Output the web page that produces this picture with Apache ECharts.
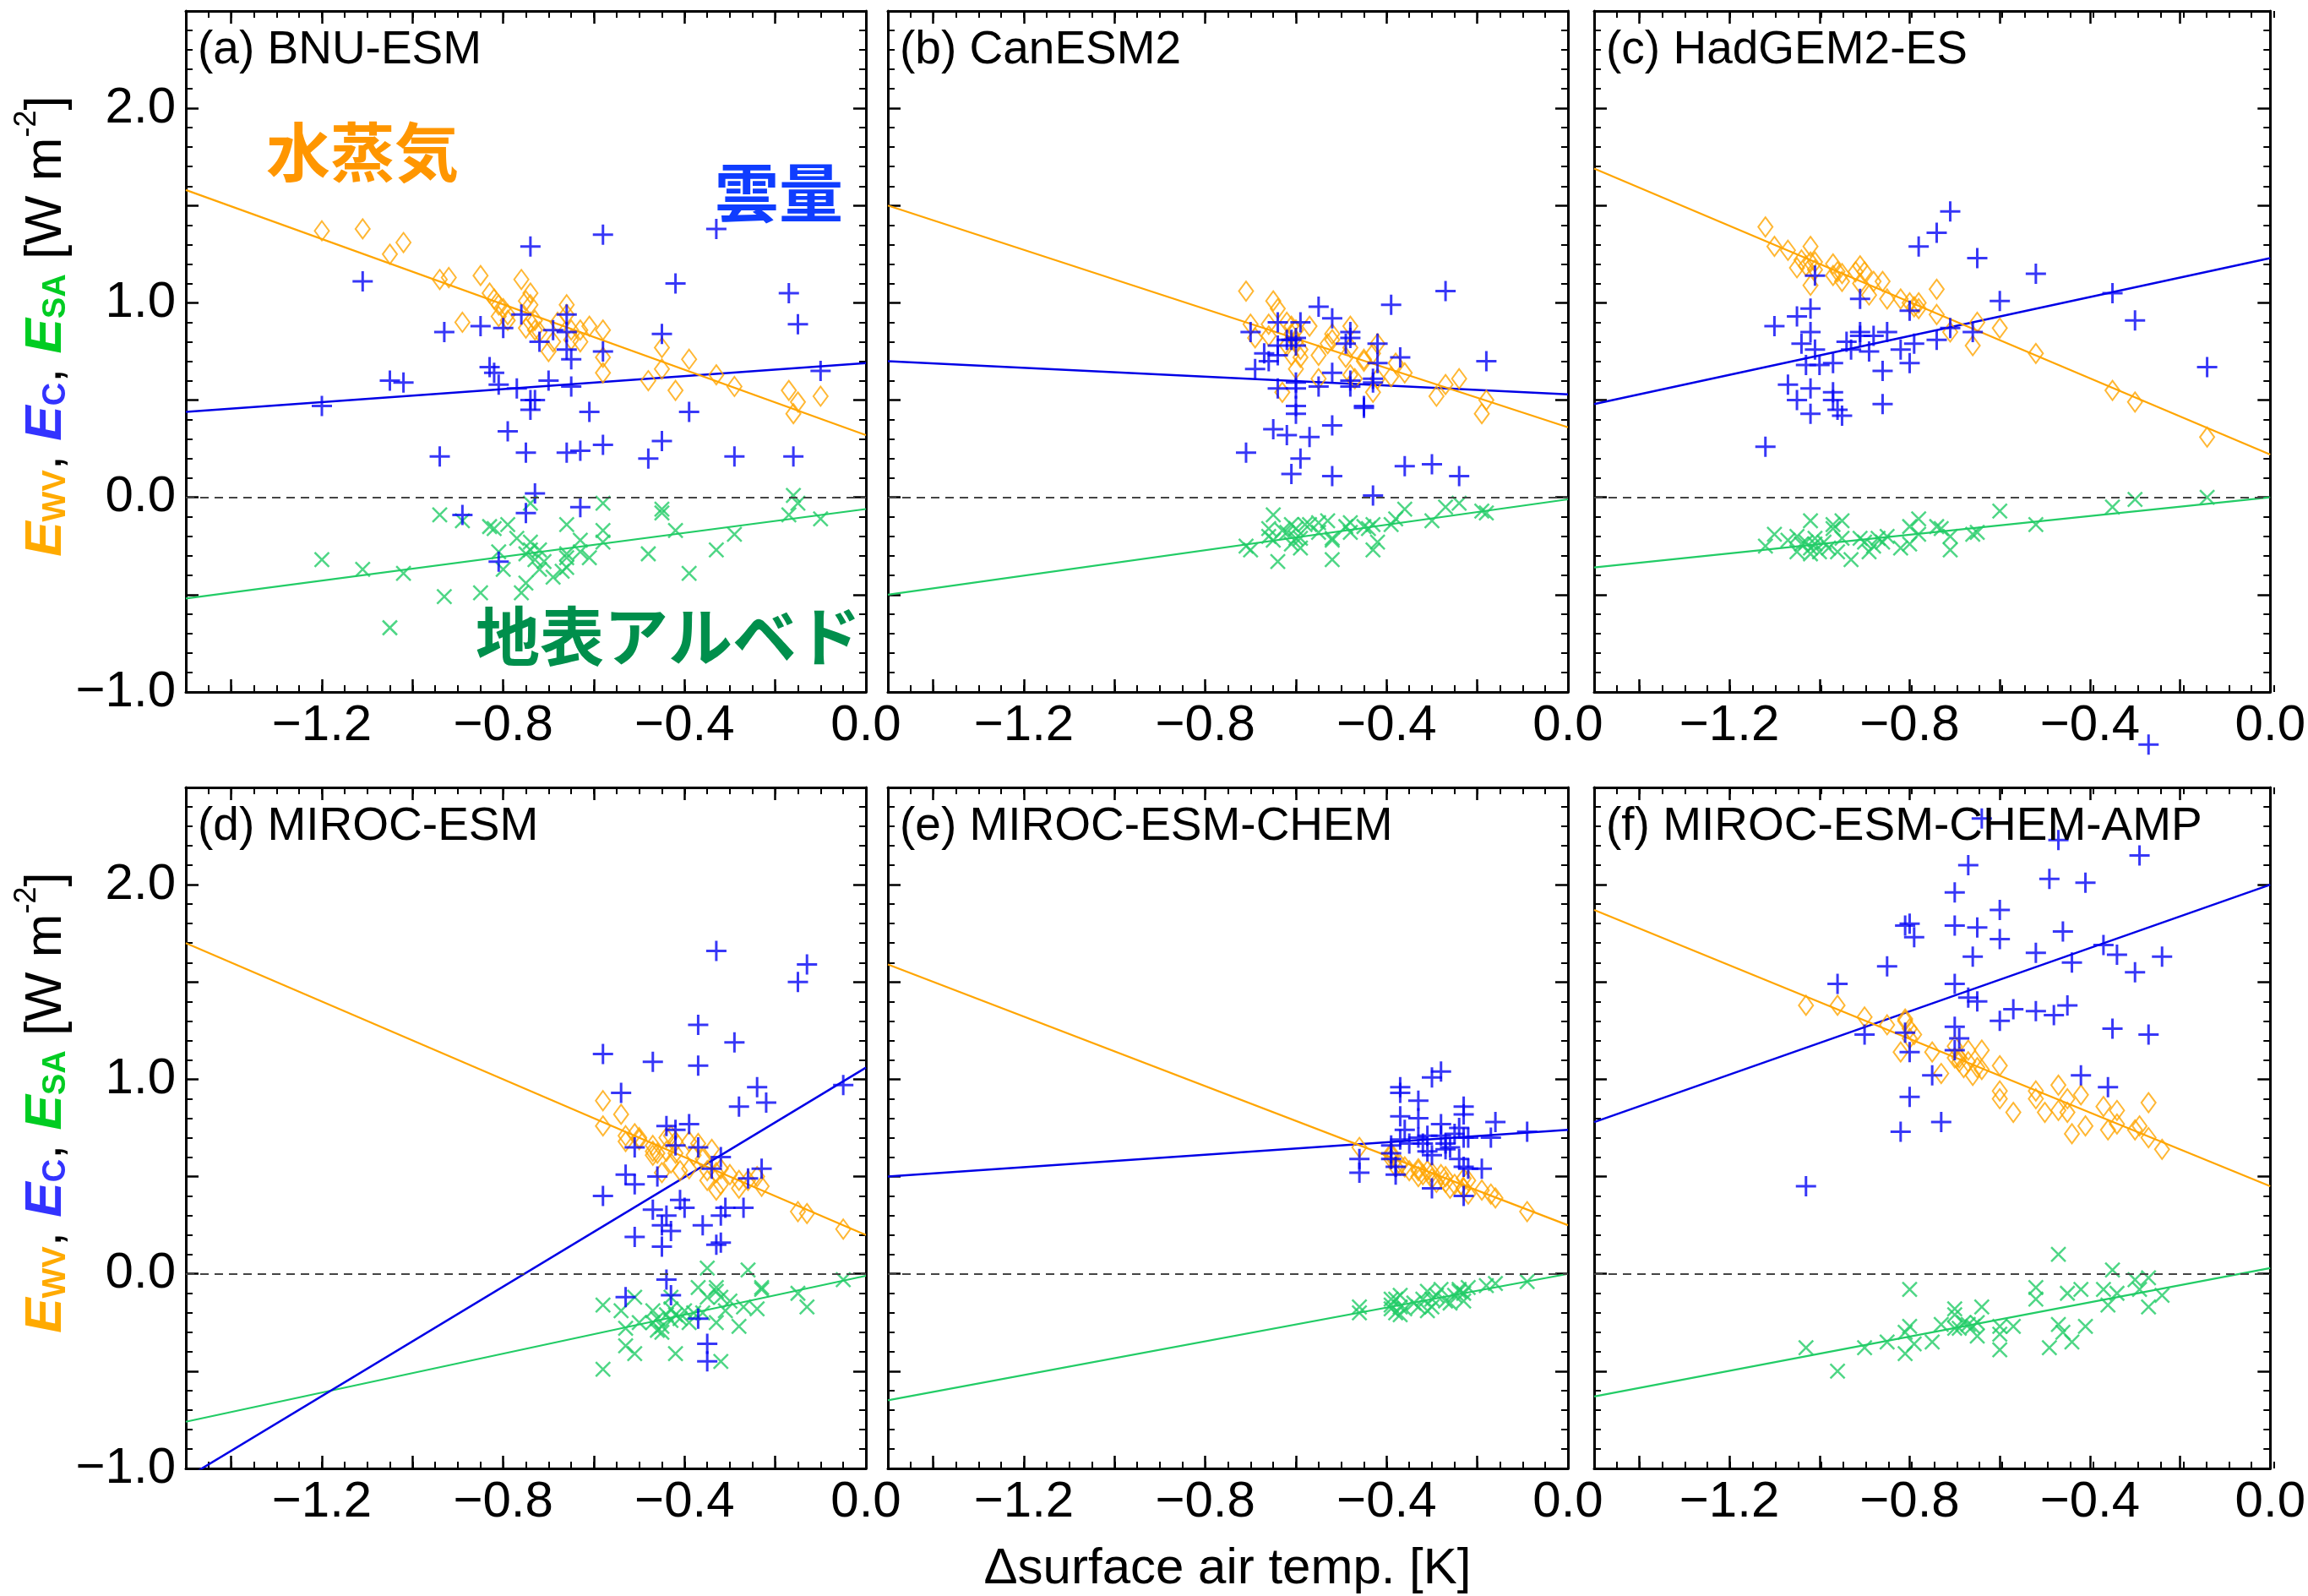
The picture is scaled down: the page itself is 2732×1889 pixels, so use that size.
<!DOCTYPE html>
<html>
<head>
<meta charset="utf-8">
<script src="https://cdn.jsdelivr.net/npm/echarts@6/dist/echarts.min.js"></script>
<style>
html, body { margin: 0; padding: 0; background: #fff; }
#chart { width: 2732px; height: 1889px; }
</style>
</head>
<body>
<div id="chart"></div>
<script>
var chartDom = document.getElementById('chart');
var myChart = echarts.init(chartDom);

var panelTitles = ['(a) BNU-ESM', '(b) CanESM2', '(c) HadGEM2-ES', '(d) MIROC-ESM', '(e) MIROC-ESM-CHEM', '(f) MIROC-ESM-CHEM-AMP'];

var xTicks = [-1.4, -1.2, -1.0, -0.8, -0.6, -0.4, -0.2, 0.0];
var xTickLabels = [-1.2, -0.8, -0.4, 0.0];
var yTickLabels = [-1, 0, 1, 2];

// [dT, E] pairs
// water vapour (orange diamonds)
var wvA = [[-1.20,1.37],[-1.11,1.38],[-1.05,1.25],[-1.02,1.31],[-0.94,1.12],[-0.92,1.13],[-0.85,1.14],[-0.76,1.12],[-0.83,1.05],[-0.82,1.02],[-0.81,0.99],[-0.80,0.97],[-0.79,0.94],[-0.81,0.93],[-0.79,0.91],[-0.75,1.01],[-0.74,1.05],[-0.74,0.99],[-0.89,0.90],[-0.75,0.87],[-0.74,0.90],[-0.73,0.91],[-0.73,0.86],[-0.72,0.85],[-0.70,0.75],[-0.69,0.80],[-0.68,0.90],[-0.66,0.99],[-0.66,0.94],[-0.65,0.86],[-0.65,0.81],[-0.63,0.80],[-0.63,0.86],[-0.61,0.88],[-0.58,0.86],[-0.58,0.72],[-0.58,0.64],[-0.48,0.60],[-0.45,0.66],[-0.45,0.77],[-0.42,0.55],[-0.39,0.71],[-0.33,0.63],[-0.29,0.57],[-0.17,0.55],[-0.15,0.49],[-0.10,0.52],[-0.16,0.43]];
var wvB = [[-0.71,1.06],[-0.65,1.01],[-0.64,0.97],[-0.70,0.89],[-0.69,0.82],[-0.66,0.83],[-0.66,0.89],[-0.62,0.90],[-0.61,0.88],[-0.60,0.86],[-0.57,0.88],[-0.61,0.84],[-0.60,0.80],[-0.62,0.78],[-0.59,0.76],[-0.61,0.73],[-0.59,0.72],[-0.60,0.66],[-0.55,0.73],[-0.52,0.81],[-0.52,0.84],[-0.53,0.79],[-0.48,0.88],[-0.48,0.77],[-0.49,0.72],[-0.45,0.70],[-0.45,0.71],[-0.42,0.79],[-0.43,0.74],[-0.48,0.63],[-0.47,0.61],[-0.42,0.61],[-0.43,0.54],[-0.55,0.61],[-0.63,0.54],[-0.39,0.62],[-0.38,0.69],[-0.36,0.64],[-0.29,0.52],[-0.27,0.58],[-0.24,0.61],[-0.18,0.50],[-0.19,0.43]];
var wvC = [[-1.12,1.39],[-1.10,1.29],[-1.07,1.27],[-1.02,1.29],[-1.05,1.18],[-1.04,1.22],[-1.03,1.19],[-1.02,1.21],[-1.01,1.21],[-1.01,1.17],[-1.02,1.09],[-0.97,1.20],[-0.97,1.14],[-0.96,1.16],[-0.95,1.11],[-0.95,1.15],[-0.92,1.16],[-0.91,1.19],[-0.90,1.16],[-0.91,1.10],[-0.89,1.04],[-0.88,1.11],[-0.86,1.11],[-0.85,1.02],[-0.82,1.02],[-0.80,1.00],[-0.78,1.00],[-0.79,0.98],[-0.78,0.97],[-0.74,1.07],[-0.74,0.94],[-0.71,0.85],[-0.66,0.78],[-0.65,0.90],[-0.60,0.87],[-0.52,0.74],[-0.35,0.55],[-0.30,0.49],[-0.14,0.31]];
var wvD = [[-0.58,0.89],[-0.54,0.82],[-0.58,0.76],[-0.53,0.71],[-0.53,0.68],[-0.51,0.72],[-0.50,0.70],[-0.50,0.69],[-0.47,0.66],[-0.47,0.63],[-0.47,0.61],[-0.46,0.62],[-0.44,0.63],[-0.44,0.70],[-0.43,0.71],[-0.42,0.68],[-0.42,0.62],[-0.43,0.57],[-0.45,0.52],[-0.41,0.53],[-0.39,0.54],[-0.39,0.68],[-0.37,0.67],[-0.38,0.61],[-0.36,0.59],[-0.34,0.64],[-0.35,0.53],[-0.35,0.48],[-0.33,0.52],[-0.32,0.54],[-0.32,0.46],[-0.33,0.43],[-0.30,0.51],[-0.28,0.48],[-0.28,0.44],[-0.26,0.48],[-0.24,0.50],[-0.23,0.45],[-0.15,0.32],[-0.13,0.31],[-0.05,0.23]];
var wvE = [[-0.46,0.65],[-0.39,0.62],[-0.39,0.59],[-0.39,0.61],[-0.38,0.55],[-0.37,0.56],[-0.36,0.55],[-0.35,0.53],[-0.33,0.54],[-0.33,0.53],[-0.33,0.50],[-0.32,0.51],[-0.31,0.53],[-0.30,0.52],[-0.30,0.49],[-0.29,0.47],[-0.28,0.51],[-0.27,0.50],[-0.27,0.47],[-0.26,0.44],[-0.25,0.46],[-0.23,0.49],[-0.23,0.44],[-0.22,0.48],[-0.23,0.44],[-0.22,0.41],[-0.19,0.43],[-0.17,0.41],[-0.16,0.39],[-0.09,0.32]];
var wvF = [[-1.03,1.38],[-0.96,1.38],[-0.90,1.32],[-0.85,1.28],[-0.81,1.31],[-0.81,1.30],[-0.80,1.26],[-0.79,1.23],[-0.80,1.21],[-0.82,1.14],[-0.75,1.14],[-0.73,1.03],[-0.70,1.11],[-0.70,1.17],[-0.69,1.09],[-0.69,1.11],[-0.68,1.06],[-0.67,1.15],[-0.67,1.09],[-0.66,1.02],[-0.65,1.06],[-0.64,1.05],[-0.64,1.15],[-0.60,1.07],[-0.60,0.94],[-0.60,0.90],[-0.57,0.83],[-0.52,0.94],[-0.52,0.90],[-0.50,0.83],[-0.47,0.97],[-0.47,0.84],[-0.45,0.90],[-0.45,0.83],[-0.44,0.72],[-0.42,0.92],[-0.41,0.76],[-0.37,0.86],[-0.36,0.74],[-0.34,0.77],[-0.34,0.84],[-0.30,0.74],[-0.29,0.76],[-0.27,0.88],[-0.27,0.70],[-0.24,0.64]];

// cloud amount (blue plus)
var cloudA = [[-1.20,0.47],[-1.11,1.11],[-1.05,0.60],[-1.02,0.59],[-0.94,0.21],[-0.93,0.85],[-0.85,0.88],[-0.80,0.87],[-0.76,0.94],[-0.74,1.29],[-0.58,1.35],[-0.33,1.38],[-0.42,1.10],[-0.17,1.05],[-0.15,0.89],[-0.10,0.65],[-0.83,0.67],[-0.82,0.64],[-0.81,0.58],[-0.77,0.56],[-0.74,0.50],[-0.73,0.50],[-0.74,0.45],[-0.79,0.34],[-0.75,0.23],[-0.66,0.94],[-0.69,0.86],[-0.66,0.85],[-0.72,0.80],[-0.66,0.76],[-0.65,0.71],[-0.58,0.75],[-0.45,0.84],[-0.70,0.60],[-0.65,0.57],[-0.61,0.44],[-0.66,0.23],[-0.63,0.24],[-0.58,0.27],[-0.48,0.20],[-0.45,0.29],[-0.39,0.44],[-0.29,0.21],[-0.16,0.21],[-0.73,0.02],[-0.89,-0.09],[-0.75,-0.08],[-0.63,-0.05],[-0.81,-0.33]];
var cloudB = [[-0.70,0.85],[-0.64,0.90],[-0.59,0.90],[-0.55,0.98],[-0.52,0.92],[-0.39,0.99],[-0.27,1.06],[-0.67,0.74],[-0.64,0.78],[-0.66,0.70],[-0.64,0.73],[-0.62,0.81],[-0.60,0.82],[-0.60,0.78],[-0.61,0.81],[-0.49,0.79],[-0.48,0.85],[-0.48,0.82],[-0.42,0.79],[-0.42,0.69],[-0.37,0.72],[-0.18,0.70],[-0.69,0.66],[-0.52,0.64],[-0.64,0.56],[-0.60,0.59],[-0.60,0.56],[-0.55,0.57],[-0.48,0.60],[-0.48,0.57],[-0.43,0.61],[-0.43,0.59],[-0.60,0.47],[-0.60,0.43],[-0.45,0.47],[-0.45,0.46],[-0.65,0.35],[-0.62,0.32],[-0.57,0.31],[-0.52,0.37],[-0.71,0.23],[-0.59,0.20],[-0.61,0.12],[-0.52,0.11],[-0.36,0.16],[-0.30,0.17],[-0.24,0.11],[-0.43,0.01]];
var cloudC = [[-1.12,0.26],[-1.10,0.88],[-1.05,0.93],[-1.02,0.97],[-1.04,0.79],[-1.02,0.85],[-1.01,0.76],[-1.01,1.14],[-1.03,0.68],[-1.00,0.68],[-0.97,0.69],[-1.07,0.58],[-1.05,0.50],[-1.02,0.56],[-1.02,0.43],[-0.97,0.54],[-0.97,0.50],[-0.96,0.45],[-0.95,0.42],[-0.94,0.80],[-0.93,0.76],[-0.91,0.85],[-0.91,0.83],[-0.89,0.75],[-0.88,0.83],[-0.85,0.85],[-0.91,1.02],[-0.86,0.65],[-0.86,0.48],[-0.82,0.76],[-0.80,0.69],[-0.79,0.79],[-0.80,0.96],[-0.78,1.29],[-0.74,1.36],[-0.71,1.47],[-0.74,0.81],[-0.71,0.87],[-0.66,0.85],[-0.65,1.23],[-0.60,1.01],[-0.52,1.15],[-0.35,1.05],[-0.30,0.91],[-0.14,0.67],[-0.27,-1.27]];
var cloudD = [[-0.58,1.13],[-0.58,0.40],[-0.54,0.93],[-0.53,0.51],[-0.51,0.46],[-0.51,0.65],[-0.51,0.19],[-0.47,1.09],[-0.46,0.50],[-0.47,0.33],[-0.45,0.25],[-0.45,0.14],[-0.44,0.76],[-0.42,0.74],[-0.44,0.30],[-0.43,0.22],[-0.41,0.38],[-0.40,0.34],[-0.42,0.66],[-0.39,0.77],[-0.37,1.28],[-0.37,1.07],[-0.37,0.65],[-0.36,0.25],[-0.34,0.54],[-0.33,1.66],[-0.32,0.60],[-0.33,0.15],[-0.32,0.16],[-0.32,0.30],[-0.31,0.34],[-0.29,1.19],[-0.28,0.86],[-0.27,0.34],[-0.26,0.49],[-0.24,0.96],[-0.23,0.54],[-0.22,0.88],[-0.15,1.50],[-0.13,1.59],[-0.05,0.97],[-0.44,-0.03],[-0.43,-0.11],[-0.53,-0.12],[-0.37,-0.23],[-0.35,-0.36],[-0.35,-0.45]];
var cloudE = [[-0.46,0.59],[-0.46,0.52],[-0.39,0.66],[-0.39,0.62],[-0.39,0.59],[-0.38,0.55],[-0.38,0.51],[-0.37,0.96],[-0.37,0.93],[-0.37,0.81],[-0.36,0.74],[-0.37,0.69],[-0.35,0.67],[-0.33,0.89],[-0.33,0.80],[-0.33,0.70],[-0.32,0.67],[-0.31,0.71],[-0.31,0.63],[-0.30,0.61],[-0.30,0.44],[-0.30,1.01],[-0.28,1.04],[-0.28,0.77],[-0.28,0.71],[-0.27,0.67],[-0.27,0.64],[-0.26,0.65],[-0.25,0.72],[-0.24,0.75],[-0.23,0.86],[-0.23,0.82],[-0.23,0.70],[-0.22,0.70],[-0.24,0.59],[-0.23,0.55],[-0.23,0.40],[-0.22,0.54],[-0.19,0.54],[-0.17,0.70],[-0.16,0.78],[-0.09,0.73]];
var cloudF = [[-1.03,0.45],[-0.96,1.49],[-0.90,1.23],[-0.85,1.58],[-0.81,1.79],[-0.80,1.80],[-0.79,1.73],[-0.81,1.24],[-0.80,1.14],[-0.80,0.91],[-0.82,0.73],[-0.75,1.02],[-0.73,0.78],[-0.70,1.49],[-0.70,1.96],[-0.70,1.79],[-0.70,1.27],[-0.70,1.15],[-0.69,1.21],[-0.67,2.10],[-0.67,1.42],[-0.66,1.63],[-0.65,1.78],[-0.65,1.40],[-0.64,2.34],[-0.60,1.87],[-0.60,1.72],[-0.60,1.30],[-0.57,1.36],[-0.52,1.65],[-0.52,1.35],[-0.49,2.03],[-0.48,1.33],[-0.47,2.23],[-0.46,1.76],[-0.45,1.38],[-0.44,1.60],[-0.42,1.02],[-0.41,2.01],[-0.37,1.69],[-0.36,0.96],[-0.35,1.26],[-0.34,1.64],[-0.30,1.55],[-0.29,2.15],[-0.27,1.23],[-0.24,1.63]];

// surface albedo (green x)
var albedoA = [[-1.20,-0.32],[-1.11,-0.37],[-1.02,-0.39],[-0.94,-0.09],[-0.89,-0.12],[-0.93,-0.51],[-0.85,-0.49],[-1.05,-0.67],[-0.83,-0.15],[-0.82,-0.16],[-0.79,-0.14],[-0.81,-0.28],[-0.77,-0.21],[-0.80,-0.37],[-0.76,-0.49],[-0.75,-0.44],[-0.74,-0.23],[-0.75,-0.29],[-0.74,-0.27],[-0.72,-0.27],[-0.73,-0.32],[-0.71,-0.33],[-0.72,-0.37],[-0.69,-0.41],[-0.66,-0.31],[-0.66,-0.29],[-0.67,-0.38],[-0.66,-0.36],[-0.66,-0.14],[-0.63,-0.22],[-0.63,-0.28],[-0.61,-0.31],[-0.58,-0.23],[-0.58,-0.17],[-0.58,-0.03],[-0.74,-0.03],[-0.48,-0.29],[-0.45,-0.08],[-0.45,-0.06],[-0.42,-0.17],[-0.39,-0.39],[-0.33,-0.27],[-0.29,-0.19],[-0.17,-0.09],[-0.16,0.01],[-0.15,-0.03],[-0.10,-0.11]];
var albedoB = [[-0.71,-0.25],[-0.70,-0.27],[-0.66,-0.16],[-0.65,-0.09],[-0.66,-0.20],[-0.65,-0.22],[-0.63,-0.17],[-0.62,-0.18],[-0.61,-0.14],[-0.60,-0.16],[-0.60,-0.21],[-0.61,-0.24],[-0.59,-0.26],[-0.59,-0.21],[-0.58,-0.14],[-0.57,-0.14],[-0.55,-0.18],[-0.55,-0.13],[-0.53,-0.12],[-0.52,-0.22],[-0.52,-0.21],[-0.52,-0.32],[-0.64,-0.33],[-0.49,-0.15],[-0.48,-0.13],[-0.48,-0.18],[-0.45,-0.15],[-0.44,-0.16],[-0.43,-0.14],[-0.42,-0.23],[-0.43,-0.27],[-0.39,-0.14],[-0.38,-0.11],[-0.36,-0.06],[-0.30,-0.12],[-0.27,-0.05],[-0.24,-0.03],[-0.18,-0.08],[-0.19,-0.07]];
var albedoC = [[-1.12,-0.25],[-1.10,-0.19],[-1.07,-0.22],[-1.05,-0.20],[-1.05,-0.28],[-1.04,-0.24],[-1.03,-0.23],[-1.02,-0.12],[-1.02,-0.26],[-1.02,-0.29],[-1.01,-0.21],[-1.01,-0.24],[-1.00,-0.28],[-0.99,-0.23],[-0.98,-0.26],[-0.97,-0.16],[-0.97,-0.14],[-0.95,-0.12],[-0.96,-0.28],[-0.95,-0.21],[-0.93,-0.32],[-0.91,-0.21],[-0.90,-0.23],[-0.89,-0.28],[-0.88,-0.25],[-0.87,-0.21],[-0.86,-0.23],[-0.85,-0.20],[-0.82,-0.26],[-0.80,-0.24],[-0.80,-0.15],[-0.78,-0.11],[-0.78,-0.19],[-0.74,-0.15],[-0.73,-0.16],[-0.71,-0.20],[-0.71,-0.27],[-0.66,-0.19],[-0.65,-0.18],[-0.60,-0.07],[-0.52,-0.14],[-0.35,-0.05],[-0.30,-0.01],[-0.14,0.00]];
var albedoD = [[-0.58,-0.16],[-0.58,-0.49],[-0.54,-0.19],[-0.53,-0.28],[-0.51,-0.12],[-0.53,-0.37],[-0.51,-0.41],[-0.50,-0.25],[-0.47,-0.19],[-0.47,-0.25],[-0.46,-0.29],[-0.46,-0.23],[-0.45,-0.27],[-0.45,-0.30],[-0.44,-0.21],[-0.43,-0.18],[-0.43,-0.24],[-0.43,-0.12],[-0.42,-0.21],[-0.41,-0.23],[-0.42,-0.41],[-0.40,-0.19],[-0.39,-0.25],[-0.38,-0.20],[-0.37,-0.07],[-0.36,-0.20],[-0.35,0.03],[-0.35,-0.12],[-0.33,-0.09],[-0.33,-0.07],[-0.33,-0.25],[-0.32,-0.12],[-0.31,-0.19],[-0.30,-0.14],[-0.28,-0.27],[-0.32,-0.45],[-0.27,-0.17],[-0.26,0.02],[-0.24,-0.18],[-0.23,-0.08],[-0.23,-0.07],[-0.15,-0.10],[-0.13,-0.17],[-0.05,-0.03]];
var albedoE = [[-0.46,-0.17],[-0.46,-0.20],[-0.39,-0.13],[-0.39,-0.16],[-0.39,-0.18],[-0.38,-0.20],[-0.38,-0.13],[-0.37,-0.17],[-0.37,-0.21],[-0.37,-0.11],[-0.36,-0.18],[-0.34,-0.15],[-0.33,-0.17],[-0.32,-0.13],[-0.31,-0.09],[-0.31,-0.19],[-0.30,-0.13],[-0.30,-0.17],[-0.29,-0.11],[-0.28,-0.08],[-0.27,-0.14],[-0.26,-0.15],[-0.25,-0.11],[-0.24,-0.09],[-0.24,-0.08],[-0.23,-0.14],[-0.23,-0.10],[-0.22,-0.07],[-0.18,-0.06],[-0.16,-0.05],[-0.09,-0.04]];
var albedoF = [[-1.03,-0.38],[-0.96,-0.50],[-0.90,-0.38],[-0.85,-0.35],[-0.81,-0.30],[-0.81,-0.41],[-0.80,-0.27],[-0.80,-0.08],[-0.79,-0.36],[-0.75,-0.35],[-0.73,-0.26],[-0.70,-0.18],[-0.70,-0.21],[-0.70,-0.28],[-0.69,-0.28],[-0.68,-0.25],[-0.67,-0.26],[-0.66,-0.27],[-0.65,-0.25],[-0.65,-0.32],[-0.64,-0.17],[-0.60,-0.27],[-0.60,-0.31],[-0.60,-0.39],[-0.57,-0.27],[-0.52,-0.07],[-0.52,-0.13],[-0.49,-0.38],[-0.47,0.10],[-0.47,-0.26],[-0.46,-0.30],[-0.45,-0.10],[-0.44,-0.35],[-0.42,-0.08],[-0.41,-0.27],[-0.37,-0.08],[-0.36,-0.16],[-0.35,0.02],[-0.34,-0.10],[-0.30,-0.03],[-0.29,-0.08],[-0.27,-0.17],[-0.27,-0.02],[-0.24,-0.11]];

// regression lines: value at dT = -1.5 and at dT = 0
var fitWV = [[1.58, 0.32], [1.50, 0.36], [1.69, 0.22], [1.70, 0.20], [1.59, 0.25], [1.87, 0.45]];
var fitC = [[0.44, 0.69], [0.70, 0.53], [0.48, 1.23], [-1.05, 1.06], [0.50, 0.74], [0.78, 2.00]];
var fitSA = [[-0.52, -0.06], [-0.50, -0.01], [-0.36, 0.00], [-0.76, -0.01], [-0.65, 0.00], [-0.63, 0.03]];

var wv = [wvA, wvB, wvC, wvD, wvE, wvF];
var cloud = [cloudA, cloudB, cloudC, cloudD, cloudE, cloudF];
var albedo = [albedoA, albedoB, albedoC, albedoD, albedoE, albedoF];

var cOrange = '#FFA500';
var cBlue = '#0505F5';
var cGreen = '#22CC66';
var fontMain = '"Liberation Sans", Arial, sans-serif';
var fontJa = '"Noto Sans CJK JP", sans-serif';

var gridLefts = [220, 1051, 1887];
var gridTops = [13, 932];
var gridW = 805, gridH = 806;

var symPlus = 'path://M0,5L10,5M5,0L5,10';
var symCross = 'path://M0,0L10,10M10,0L0,10';
var symDiamond = 'path://M5,0L10,6.5L5,13L0,6.5Z';

function fmtTick(v) {
    if (Math.abs(v) < 1e-9) return '0.0';
    return (v < 0 ? '\u2212' : '') + Math.abs(v).toFixed(1);
}

var axisLineStyle = { color: '#000', width: 3 };
var tickStyle = { color: '#000', width: 2.5 };
var labelStyle = { color: '#000', fontSize: 60, fontFamily: fontMain };

function majorX(i, pos, withLabels) {
    return {
        type: 'value', gridIndex: i, position: pos, min: -1.5, max: 0,
        axisLine: { show: true, onZero: false, lineStyle: axisLineStyle },
        axisTick: { show: true, inside: true, length: 15, customValues: xTicks, lineStyle: tickStyle },
        axisLabel: Object.assign({ show: withLabels, customValues: xTickLabels, formatter: fmtTick, margin: 10 }, labelStyle),
        splitLine: { show: false }
    };
}

function minorX(g, pos) {
    return {
        type: 'value', gridIndex: g, position: pos, min: -1.5, max: 0, interval: 0.05,
        axisLine: { show: false, onZero: false },
        axisTick: { show: true, inside: true, length: 8, lineStyle: { color: '#000', width: 2 } },
        axisLabel: { show: false },
        splitLine: { show: false }
    };
}

var yName = '{o|E}{os|WV}{k|, }{b|E}{bs|C}{k|, }{g|E}{gs|SA}{k| [W m}{sup|-2}{k|]}';
var yRich = {
    o: { color: '#FFAA00', fontSize: 62, fontWeight: 'bold', fontStyle: 'italic', fontFamily: fontMain, lineHeight: 72, verticalAlign: 'bottom' },
    b: { color: '#3333FF', fontSize: 62, fontWeight: 'bold', fontStyle: 'italic', fontFamily: fontMain, lineHeight: 72, verticalAlign: 'bottom' },
    g: { color: '#00CC22', fontSize: 62, fontWeight: 'bold', fontStyle: 'italic', fontFamily: fontMain, lineHeight: 72, verticalAlign: 'bottom' },
    os: { color: '#FFAA00', fontSize: 38, fontWeight: 'bold', fontFamily: fontMain, lineHeight: 54, verticalAlign: 'bottom' },
    bs: { color: '#3333FF', fontSize: 38, fontWeight: 'bold', fontFamily: fontMain, lineHeight: 54, verticalAlign: 'bottom' },
    gs: { color: '#00CC22', fontSize: 38, fontWeight: 'bold', fontFamily: fontMain, lineHeight: 54, verticalAlign: 'bottom' },
    k: { color: '#000', fontSize: 62, fontFamily: fontMain, lineHeight: 72, verticalAlign: 'bottom' },
    sup: { color: '#000', fontSize: 36, fontFamily: fontMain, lineHeight: 40, verticalAlign: 'top' }
};

function makeY(i, pos, withLabels) {
    var ax = {
        type: 'value', gridIndex: i, position: pos, min: -1, max: 2.5, interval: 0.5,
        axisLine: { show: true, onZero: false, lineStyle: axisLineStyle },
        axisTick: { show: true, inside: true, length: 15, lineStyle: tickStyle },
        minorTick: { show: true, splitNumber: 5, length: 8, lineStyle: { color: '#000', width: 2 } },
        axisLabel: Object.assign({ show: withLabels, customValues: yTickLabels, formatter: fmtTick, margin: 12 }, labelStyle),
        splitLine: { show: false },
        minorSplitLine: { show: false }
    };
    if (withLabels) {
        ax.name = yName;
        ax.nameLocation = 'middle';
        ax.nameRotate = 90;
        ax.nameGap = 134;
        ax.nameTextStyle = { rich: yRich, padding: [0, 0, 0, 60] };
    }
    return ax;
}

var grids = [], xAxes = [], yAxes = [], series = [], titles = [];

for (var i = 0; i < 6; i++) {
    var col = i % 3, row = Math.floor(i / 3);
    grids.push({ left: gridLefts[col], top: gridTops[row], width: gridW, height: gridH, containLabel: false });
    xAxes.push(majorX(i, 'bottom', true));
    xAxes.push(majorX(i, 'top', false));
    yAxes.push(makeY(i, 'left', col === 0));
    yAxes.push(makeY(i, 'right', false));

    titles.push({
        text: panelTitles[i], left: gridLefts[col] + 14, top: gridTops[row] + 19, padding: 0,
        textStyle: { fontSize: 55, fontWeight: 'normal', fontFamily: fontMain, color: '#000' }
    });

    series.push({
        type: 'line', xAxisIndex: 2 * i, yAxisIndex: 2 * i, silent: true, clip: true, z: 2,
        data: [[-1.5, fitSA[i][0]], [0, fitSA[i][1]]], symbol: 'none',
        lineStyle: { color: cGreen, width: 2.2 },
        markLine: {
            silent: true, symbol: ['none', 'none'], label: { show: false },
            lineStyle: { type: [10, 7], color: '#444', width: 2 },
            data: [{ yAxis: 0 }]
        }
    });
    series.push({
        type: 'line', xAxisIndex: 2 * i, yAxisIndex: 2 * i, silent: true, clip: true, z: 2,
        data: [[-1.5, fitC[i][0]], [0, fitC[i][1]]], symbol: 'none',
        lineStyle: { color: '#0000E6', width: 2.5 }
    });
    series.push({
        type: 'line', xAxisIndex: 2 * i, yAxisIndex: 2 * i, silent: true, clip: true, z: 2,
        data: [[-1.5, fitWV[i][0]], [0, fitWV[i][1]]], symbol: 'none',
        lineStyle: { color: cOrange, width: 2.2 }
    });
    series.push({
        type: 'scatter', xAxisIndex: 2 * i, yAxisIndex: 2 * i, clip: false, z: 3,
        data: albedo[i], symbol: symCross, symbolSize: 17,
        itemStyle: { color: 'rgba(0,0,0,0)', borderColor: cGreen, borderWidth: 2.5 }
    });
    series.push({
        type: 'scatter', xAxisIndex: 2 * i, yAxisIndex: 2 * i, clip: false, z: 3,
        data: wv[i], symbol: symDiamond, symbolSize: [17, 23],
        itemStyle: { color: 'rgba(0,0,0,0)', borderColor: cOrange, borderWidth: 2 }
    });
    series.push({
        type: 'scatter', xAxisIndex: 2 * i, yAxisIndex: 2 * i, clip: false, z: 3,
        data: cloud[i], symbol: symPlus, symbolSize: 24,
        itemStyle: { color: 'rgba(0,0,0,0)', borderColor: cBlue, borderWidth: 3 }
    });
}

// overlay grids carry the 0.05 minor ticks of the x axes
for (var j = 0; j < 6; j++) {
    var c2 = j % 3, r2 = Math.floor(j / 3);
    grids.push({ left: gridLefts[c2], top: gridTops[r2], width: gridW, height: gridH, containLabel: false });
    xAxes.push(minorX(6 + j, 'bottom'));
    xAxes.push(minorX(6 + j, 'top'));
    yAxes.push({ type: 'value', gridIndex: 6 + j, min: -1, max: 2.5, show: false });
}

var graphics = [
    { type: 'text', x: 429, y: 180, style: { text: '水蒸気', fill: '#FF9600', fontSize: 76, fontWeight: 'bold', fontFamily: fontJa, align: 'center', verticalAlign: 'middle', textAlign: 'center', textVerticalAlign: 'middle' } },
    { type: 'text', x: 922, y: 228, style: { text: '雲量', fill: '#0F3DFF', fontSize: 76, fontWeight: 'bold', fontFamily: fontJa, align: 'center', verticalAlign: 'middle', textAlign: 'center', textVerticalAlign: 'middle' } },
    { type: 'text', x: 791, y: 753, style: { text: '地表アルベド', fill: '#008F4C', fontSize: 76, fontWeight: 'bold', fontFamily: fontJa, align: 'center', verticalAlign: 'middle', textAlign: 'center', textVerticalAlign: 'middle' } },
    { type: 'text', x: 1453, y: 1857, style: { text: '\u0394surface air temp. [K]', fill: '#000', fontSize: 60, fontFamily: fontMain, align: 'center', verticalAlign: 'middle', textAlign: 'center', textVerticalAlign: 'middle' } }
];

var option = {
    backgroundColor: '#fff',
    animation: false,
    title: titles,
    grid: grids,
    xAxis: xAxes,
    yAxis: yAxes,
    series: series,
    graphic: graphics
};

option && myChart.setOption(option);
</script>
</body>
</html>
